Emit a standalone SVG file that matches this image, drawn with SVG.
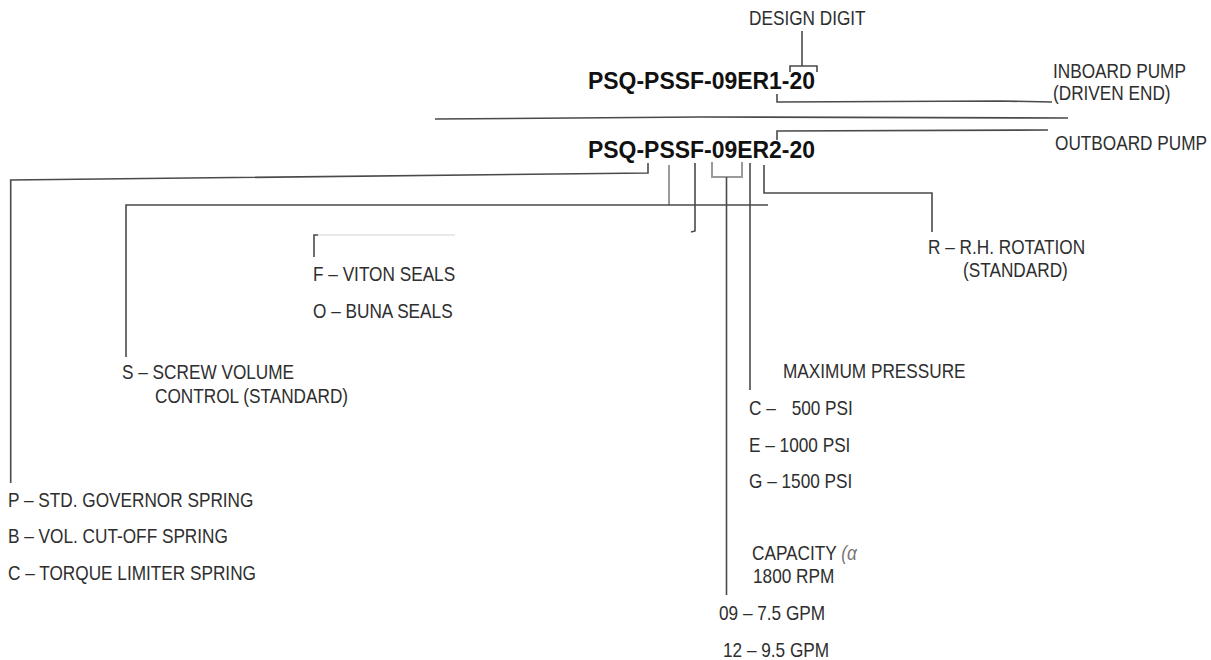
<svg xmlns="http://www.w3.org/2000/svg" width="1211" height="660" viewBox="0 0 1211 660">
<style>
.lbl{font-family:"Liberation Sans",Arial,sans-serif;font-size:21px;fill:#2e2e2e}
.code{font-family:"Liberation Sans",Arial,sans-serif;font-weight:bold;font-size:23.5px;fill:#111}
.ln{fill:none;stroke:#4a4a4a;stroke-width:1.6}
.lt{fill:none;stroke:#9a9a9a;stroke-width:2}
.fa{fill:none;stroke:#e2e2e2;stroke-width:1.5}
</style>
<rect width="1211" height="660" fill="#fff"/>
<g id="connectors">
  <polyline class="ln" points="802,31 802,66"/>
  <polyline class="ln" points="790,72 790,66 817,66 817,72"/>
  <polyline class="ln" points="777,94 777,102 1000,101 1052,102"/>
  <polyline class="ln" points="435,119 700,117 1068,118"/>
  <polyline class="ln" points="777,140 777,131 1048,130"/>
  <polyline class="ln" points="648,163 648,173 10.7,180 10.7,483"/>
  <polyline class="lt" points="669,165 669,205"/>
  <polyline class="ln" stroke="#6a6a6a" points="768,205 126,205 126,357"/>
  <polyline class="ln" points="695,163 695,231 691,232"/>
  <polyline class="fa" points="318,235 455,235"/>
  <polyline class="ln" points="318,235 314,235 314,257"/>
  <polyline class="lt" points="712,162 712,177 742,177 742,162"/>
  <polyline class="ln" points="726.5,177 726.5,595"/>
  <polyline class="ln" stroke="#666" points="750,163 750,390"/>
  <polyline class="ln" points="764,165 764,193 932,193 932,232"/>
</g>
<g id="design-digit"><text class="lbl" transform="translate(749,25) scale(0.82,1)">DESIGN DIGIT</text></g>
<g id="code-inboard"><text class="code" x="588" y="89" textLength="227" lengthAdjust="spacingAndGlyphs">PSQ-PSSF-09ER1-20</text></g>
<g id="inboard-pump"><text class="lbl" transform="translate(1053,78) scale(0.82,1)">INBOARD PUMP</text><text class="lbl" transform="translate(1053,100) scale(0.82,1)">(DRIVEN END)</text></g>
<g id="code-outboard"><text class="code" x="588" y="158" textLength="227" lengthAdjust="spacingAndGlyphs">PSQ-PSSF-09ER2-20</text></g>
<g id="outboard-pump"><text class="lbl" transform="translate(1055,150) scale(0.82,1)">OUTBOARD PUMP</text></g>
<g id="seals"><text class="lbl" transform="translate(313,281) scale(0.82,1)">F – VITON SEALS</text><text class="lbl" transform="translate(313,318) scale(0.82,1)">O – BUNA SEALS</text></g>
<g id="volume-control"><text class="lbl" transform="translate(122,379) scale(0.82,1)">S – SCREW VOLUME</text><text class="lbl" transform="translate(155,403) scale(0.82,1)">CONTROL (STANDARD)</text></g>
<g id="springs"><text class="lbl" transform="translate(8,507) scale(0.82,1)">P – STD. GOVERNOR SPRING</text><text class="lbl" transform="translate(8,543) scale(0.82,1)">B – VOL. CUT-OFF SPRING</text><text class="lbl" transform="translate(8,580) scale(0.82,1)">C – TORQUE LIMITER SPRING</text></g>
<g id="pressure"><text class="lbl" transform="translate(783,378) scale(0.82,1)">MAXIMUM PRESSURE</text><text class="lbl" transform="translate(749,415) scale(0.82,1)">C –<tspan x="52">500 PSI</tspan></text><text class="lbl" transform="translate(749,452) scale(0.82,1)">E – 1000 PSI</text><text class="lbl" transform="translate(749,488) scale(0.82,1)">G – 1500 PSI</text></g>
<g id="capacity"><text class="lbl" transform="translate(752,560) scale(0.82,1)">CAPACITY <tspan font-style="italic" fill="#777">(α</tspan></text><text class="lbl" transform="translate(753,583) scale(0.82,1)">1800 RPM</text><text class="lbl" transform="translate(719,620) scale(0.82,1)">09 – 7.5 GPM</text><text class="lbl" transform="translate(723,657) scale(0.82,1)">12 – 9.5 GPM</text></g>
<g id="rotation"><text class="lbl" transform="translate(928,254) scale(0.82,1)">R – R.H. ROTATION</text><text class="lbl" transform="translate(963,277) scale(0.82,1)">(STANDARD)</text></g>
</svg>
